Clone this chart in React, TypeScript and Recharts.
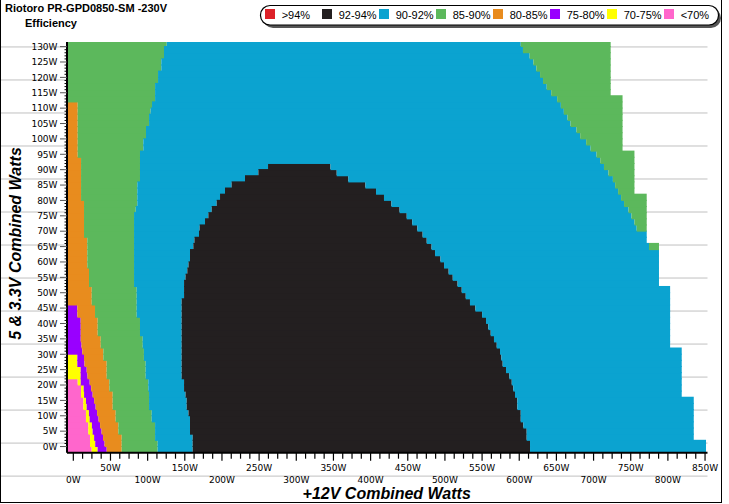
import { BarChart, Bar, XAxis, YAxis, CartesianGrid } from 'recharts';

// x axis runs a little left of 0W, like the original plot
const X_START = -8.5;
const X_END = 853.3;

// 5 & 3.3V load of each row (W), one row every 2W
const loads = [
  -1, 1, 3, 5, 7, 9, 11, 13, 15, 17, 19, 21, 23, 25, 27, 29, 31, 33, 35, 37, 39, 41, 43, 45, 47, 49, 51, 53, 55, 57,
  59, 61, 63, 65, 67, 69, 71, 73, 75, 77, 79, 81, 83, 85, 87, 89, 91, 93, 95, 97, 99, 101, 103, 105, 107, 109, 111,
  113, 115, 117, 119, 121, 123, 125, 127, 129, 131,
];

// +12V watts where each efficiency band ends, row by row (missing = band absent)
const pinkEnd = [24.7, 22.5, 22.5, 20.2, 20.2, 17, 17, 13.5, 13.5, 10.4, 10.4, 5.9];
const yellowEnd = [32.7, 29.5, 28, 26, 25, 22, 21, 18, 17, 14.5, 14, 10, 9.9, 9.9, 5.4, 5.4];
const purpleEnd = [44.9, 42, 40, 38, 36, 34, 32, 30, 28, 26, 24, 22, 19, 18, 15, 14.4, 12, 11, 10, 10, 10, 9.9, 5.4, 5.4];
const orangeEnd = [
  65.1, 65.1, 65.1, 60.6, 60.6, 57, 57, 53, 53, 53, 48.5, 48.5, 44.9, 44.9, 44.9, 40.4, 40.4, 36.9, 36.9, 32.8, 32.8,
  32.8, 29.2, 29.2, 24.8, 24.8, 24.8, 21.1, 21.1, 21.1, 18.8, 18.8, 18.8, 18.8, 18.8, 14.4, 14.4, 14.4, 14.4, 14.4,
  14.4, 10.4, 10.4, 10.4, 10.4, 10.4, 10.4, 10.4, 5.9, 5.9, 5.9, 5.9, 5.9, 5.9, 5.9, 5.9, 5.9,
];
const greenEnd = [
  113.5, 113.5, 110, 110, 110, 105.5, 105.5, 101.9, 101.9, 101.9, 100.9, 100.9, 97.4, 97.4, 97.4, 95, 95, 93.4, 93.4,
  89.7, 89.7, 89.7, 85.3, 85.3, 85.3, 85.3, 85.3, 81.7, 81.7, 81.7, 81.7, 81.7, 81.7, 81.7, 81.7, 81.7, 81.7, 81.7,
  81.7, 84, 86.1, 86.1, 86.1, 86.1, 89.7, 89.7, 89.7, 89.7, 89.7, 94.2, 94.2, 97.8, 97.8, 101.9, 101.9, 104, 105.9,
  110, 110, 110, 114, 114, 118.4, 118.4, 122, 122, 125.7,
];
const blackStart = [
  160.6, 160.6, 160.6, 157, 157, 157, 155, 152.6, 152.6, 151, 149, 149, 145.8, 145.8, 145.8, 145.8, 145.8, 145.8,
  145.8, 145.8, 145.8, 145.8, 145.8, 145.8, 145.8, 149, 149, 149, 151, 153.4, 155, 157, 157, 161.5, 163, 169.1, 170,
  177.2, 181.7, 186.2, 192.9, 197.4, 204.1, 213, 231, 249, 262,
];
const blackEnd = [
  614.5, 614.5, 610, 610, 605.5, 602, 602, 597.4, 597.4, 594.3, 592, 589.9, 586.7, 582.2, 577.7, 576, 574.1, 569.7,
  566, 561.6, 558.4, 555.3, 550, 541, 533.7, 528, 522.6, 517, 510.5, 505, 498.8, 494, 486.7, 482, 475.5, 470, 462.9,
  456, 448.6, 439, 428, 418, 407.3, 393, 370, 354.4, 346,
];
const blueEnd = [
  851.3, 851.3, 834.8, 834.8, 834.8, 834.8, 834.8, 834.8, 834.8, 818.6, 818.6, 818.6, 818.6, 818.6, 818.6, 818.6,
  818.6, 803, 803, 803, 803, 803, 803, 803, 803, 803, 803, 788, 788, 788, 788, 788, 788, 774.6, 771.5, 771.5, 758, 755,
  751, 747, 741, 737, 733, 729, 726, 720, 714, 709, 704, 696, 690, 682, 677, 669, 665, 660, 656, 651, 643, 637, 632,
  628, 623, 619, 614, 605, 602,
];
const outerEnd = [
  851.3, 851.3, 834.8, 834.8, 834.8, 834.8, 834.8, 834.8, 834.8, 818.6, 818.6, 818.6, 818.6, 818.6, 818.6, 818.6,
  818.6, 803, 803, 803, 803, 803, 803, 803, 803, 803, 803, 788, 788, 788, 788, 788, 788, 788, 771.5, 771.5, 771.5,
  771.5, 771.5, 771.5, 771.5, 771.5, 755, 755, 755, 755, 755, 755, 755, 739, 739, 739, 739, 739, 739, 739, 739, 739,
  723, 723, 723, 723, 723, 723, 723, 723, 723,
];

const bandEnds = [pinkEnd, yellowEnd, purpleEnd, orangeEnd, greenEnd, blackStart, blackEnd, blueEnd, outerEnd];
const bandColors = ['#ff66cc', '#ffff00', '#9900ff', '#e88c1e', '#5cb85c', '#0ba3d0', '#231f20', '#0ba3d0', '#5cb85c'];

const legendLabels = ['>94%', '92-94%', '90-92%', '85-90%', '80-85%', '75-80%', '70-75%', '<70%'];
const legendColors = ['#dd2128', '#231f20', '#0ba3d0', '#5cb85c', '#e88c1e', '#9900ff', '#ffff00', '#ff66cc'];

const xLabels = [0, 50, 100, 150, 200, 250, 300, 350, 400, 450, 500, 550, 600, 650, 700, 750, 800, 850];
const yLabels = [0, 5, 10, 15, 20, 25, 30, 35, 40, 45, 50, 55, 60, 65, 70, 75, 80, 85, 90, 95, 100, 105, 110, 115, 120, 125, 130];

// stacked widths, measured from the left edge of the plot
const rows = loads.map((w, i) => {
  const row: Record<string, number> = { w };
  let prev = X_START;
  bandEnds.forEach((ends, b) => {
    const end = ends[i] ?? prev;
    row[`b${b}`] = end - prev;
    prev = end;
  });
  return row;
});

const xTicks: number[] = [];
for (let v = 0; v <= 850; v += 12.5) xTicks.push(v - X_START);
const yTicks: number[] = [];
for (let v = 0; v <= 130; v += 1) yTicks.push(v);

const tickFont = { fontFamily: 'DejaVu Sans', fontSize: 9, fill: '#000' };

function XTick(props: any) {
  const { x, y, payload } = props;
  const watts = Math.round((payload.value + X_START) * 10) / 10;
  const major = xLabels.includes(watts);
  const odd = Math.round(watts / 50) % 2 === 1;
  return (
    <g>
      <line x1={x} x2={x} y1={y} y2={y + (major ? 8 : 6)} stroke="#000" strokeWidth={1.2} />
      {major && (
        <text x={x} y={y + (odd ? 18.3 : 29.8)} textAnchor="middle" {...tickFont}>
          {watts}W
        </text>
      )}
    </g>
  );
}

function YTick(props: any) {
  const { x, y, payload } = props;
  const major = yLabels.includes(payload.value);
  return (
    <g>
      <line x1={x - (major ? 7 : 2.5)} x2={x} y1={y} y2={y} stroke={major ? '#555' : '#000'} strokeWidth={1} />
      {major && (
        <text x={x - 9.5} y={y + 3.3} textAnchor="end" {...tickFont}>
          {payload.value}W
        </text>
      )}
    </g>
  );
}

// the cells butt against each other; pad each one a little so no seam shows between rows
function Cell(props: any) {
  const { x, y, width, height, fill } = props;
  if (!width || width <= 0) return null;
  return <rect x={x} y={y - 0.6} width={width} height={height + 1.2} fill={fill} />;
}

const titleFont = { fontFamily: 'Liberation Sans, Arial, sans-serif', fontWeight: 700, fill: '#000' };

const chartProps = {
  width: 729,
  height: 504,
  data: rows,
  layout: 'vertical' as const,
  margin: { top: 42, right: 21.5, bottom: 21.3, left: 0 },
  barCategoryGap: 0,
  barGap: 0,
  stackOffset: 'none' as const,
};

const layer = { position: 'absolute' as const, left: 0, top: 0 };

export default function App() {
  return (
    <div style={{ position: 'absolute', left: 0, top: 0, width: 729, height: 504, background: '#fff' }}>
      {/* grid on its own layer so the bands cover it */}
      <div style={layer}>
        <BarChart {...chartProps}>
          <CartesianGrid vertical={false} horizontalValues={yLabels} stroke="#c0c0c0" />
          <XAxis type="number" domain={[0, X_END - X_START]} height={30} hide allowDataOverflow />
          <YAxis type="number" dataKey="w" domain={[-2, 131.5]} width={67} reversed hide allowDataOverflow />
        </BarChart>
      </div>

      <div style={layer}>
        <BarChart {...chartProps}>
          <XAxis
            type="number"
            domain={[0, X_END - X_START]}
            ticks={xTicks}
            interval={0}
            tick={(p: any) => <XTick {...p} />}
            tickLine={false}
            tickSize={0}
            tickMargin={0}
            height={30}
            allowDataOverflow
            axisLine={{ stroke: '#000', strokeWidth: 2 }}
          />
          <YAxis
            type="number"
            dataKey="w"
            domain={[-2, 131.5]}
            reversed
            ticks={yTicks}
            interval={0}
            tick={(p: any) => <YTick {...p} />}
            tickLine={false}
            tickSize={0}
            tickMargin={0}
            width={67}
            allowDataOverflow
            axisLine={{ stroke: '#000', strokeWidth: 2 }}
          />
          {bandColors.map((c, i) => (
            <Bar
              key={i}
              dataKey={`b${i}`}
              stackId="eff"
              fill={c}
              shape={(p: any) => <Cell {...p} fill={c} />}
              isAnimationActive={false}
            />
          ))}
        </BarChart>
      </div>

      <svg width={729} height={504} style={{ ...layer, pointerEvents: 'none' }}>
        <text x={5} y={11.7} fontSize={11} {...titleFont}>
          Riotoro PR-GPD0850-SM -230V
        </text>
        <text x={25} y={26.7} fontSize={11} {...titleFont}>
          Efficiency
        </text>

        <rect x={263} y={8} width={458} height={20} rx={10} fill="#555" />
        <rect x={260.5} y={5.5} width={458} height={19.5} rx={9.5} fill="#fff" stroke="#000" strokeWidth={1.2} />
        {legendLabels.map((l, i) => (
          <g key={l}>
            <rect x={265 + i * 57} y={9} width={10} height={10} fill={legendColors[i]} />
            <text x={281.7 + i * 57} y={18.5} fontSize={11} fontFamily="Liberation Sans, Arial, sans-serif" fill="#000">
              {l}
            </text>
          </g>
        ))}

        <text x={386.7} y={498.5} fontSize={16} fontStyle="italic" textAnchor="middle" {...titleFont}>
          +12V Combined Watts
        </text>
        <text
          transform="translate(20.5 243.5) rotate(-90)"
          fontSize={16}
          fontStyle="italic"
          textAnchor="middle"
          {...titleFont}
        >
          5 &amp; 3.3V Combined Watts
        </text>

        <line x1={0.5} y1={0} x2={0.5} y2={503} stroke="#000" />
        <line x1={0} y1={502.5} x2={722} y2={502.5} stroke="#000" />
        <line x1={721.5} y1={0} x2={721.5} y2={503} stroke="#000" />
      </svg>
    </div>
  );
}
